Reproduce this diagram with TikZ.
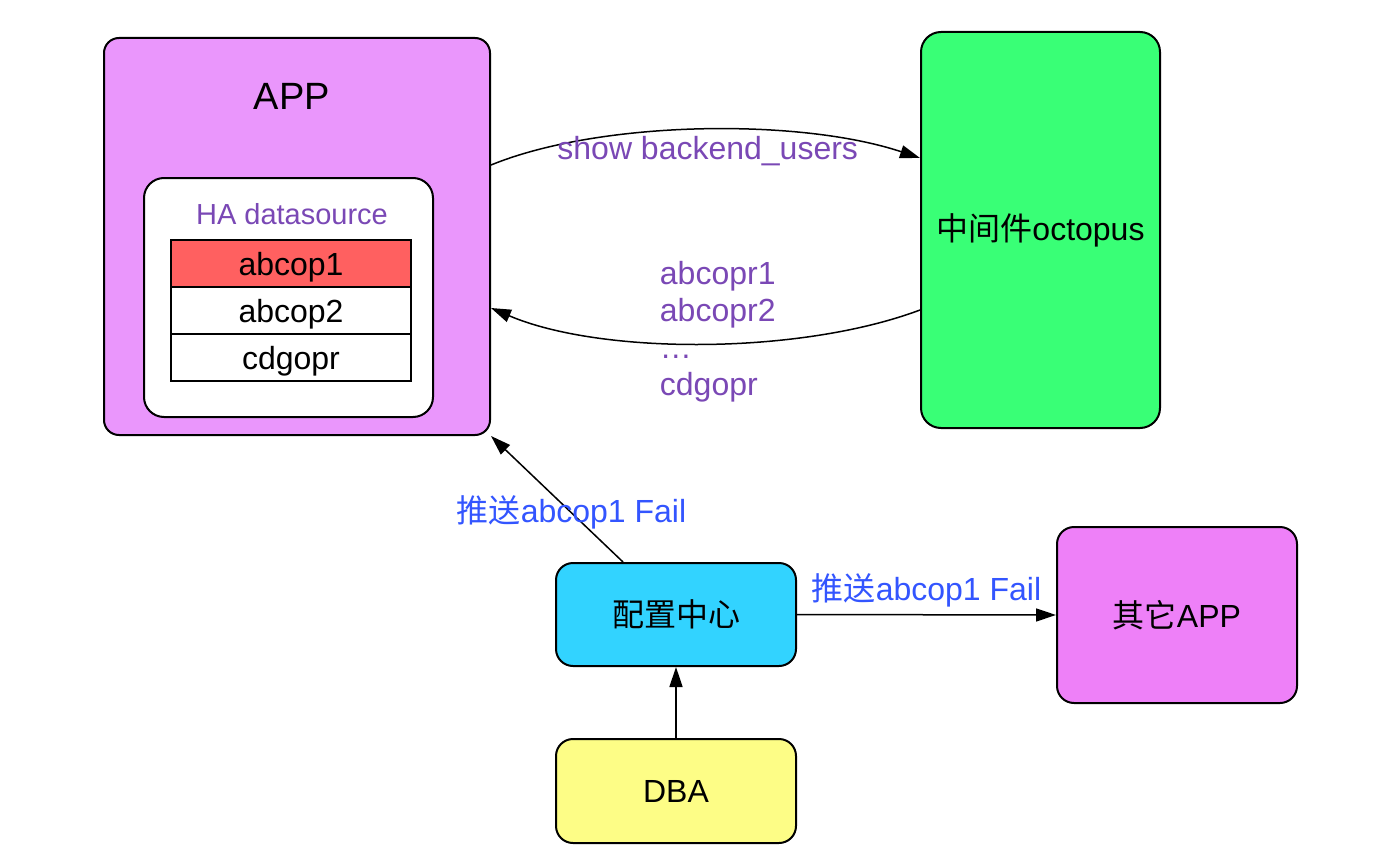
\documentclass[tikz,border=0pt]{standalone}
\usepackage{fontspec}
\setmainfont{Liberation Sans}
\newfontfamily\cjk{Noto Sans CJK SC}
\usepackage{tikz}
\usetikzlibrary{arrows.meta, positioning}

\definecolor{appviolet}{HTML}{EA96FC}
\definecolor{otherviolet}{HTML}{EE80F8}
\definecolor{octgreen}{HTML}{39FF76}
\definecolor{cfgcyan}{HTML}{32D3FF}
\definecolor{dbayellow}{HTML}{FDFD86}
\definecolor{failred}{HTML}{FF6060}
\definecolor{lblpurple}{HTML}{7A48B5}
\definecolor{lblblue}{HTML}{3355FF}

\begin{document}
\begin{tikzpicture}[
  x=0.5pt, y=-0.5pt,
  every node/.style={font=\fontsize{16}{19}\selectfont},
  box/.style={draw, line width=1pt, rounded corners=8.5pt, minimum width=120pt, align=center},
  row/.style={draw, line width=1pt, outer sep=0pt, minimum width=120pt, minimum height=23.5pt, inner sep=0pt, text depth=0pt},
  purpletxt/.style={text=lblpurple},
  bluetxt/.style={text=lblblue},
  arrow/.style={line width=0.75pt, -{Triangle[length=10pt, width=6.5pt]}}
]
\useasboundingbox (0,0) rectangle (1386,856);

% app side
\node[box, fill=appviolet, rounded corners=7.5pt, minimum width=193pt, minimum height=198.5pt] (app) at (297,236.5) {};
\node[font=\fontsize{19}{22}\selectfont] (apptitle) at (292,96) {APP};
\node[box, fill=white, rounded corners=10pt, minimum width=144.5pt, minimum height=119.5pt] (ha) at (288.5,297.5) {};
\node[purpletxt, font=\fontsize{14.5}{17}\selectfont] (hatitle) at (292,214) {HA datasource};
\node[row, fill=failred] (r1) at (291,263.5) {abcop1};
\node[row, fill=white, below=0pt of r1] (r2) {abcop2};
\node[row, fill=white, below=0pt of r2] (r3) {cdgopr};

% middleware + config
\node[box, fill=octgreen, rounded corners=10pt, minimum width=119.5pt, minimum height=198pt] (oct) at (1040.5,230) {{\cjk 中间件}octopus};
\node[box, fill=cfgcyan, minimum height=51.5pt] (cfg) at (676,614.5) {{\cjk 配置中心}};
\node[box, fill=otherviolet, minimum height=88pt] (other) at (1177,615) {{\cjk 其它}APP};
\node[box, fill=dbayellow, minimum height=52pt] (dba) at (676,791) {DBA};

\draw[arrow] ([yshift=35.75pt]app.east) .. controls +(110,-45) and +(-120,-40) .. ([yshift=36pt]oct.west)
  node[pos=0.5, xshift=3pt, yshift=-10.5pt, purpletxt] (showlbl) {show backend\_users};
\draw[arrow] ([yshift=-40pt]oct.west) .. controls +(-120,45) and +(110,47) .. ([yshift=-35.75pt]app.east)
  node[pos=0.5, xshift=8pt, yshift=6pt, purpletxt, align=left, font=\fontsize{16}{18.5}\selectfont] (userslbl) {abcopr1\\abcopr2\\…\\cdgopr};
\draw[arrow] ([xshift=-26.5pt]cfg.north) -- (app.south east)
  node[pos=0.39, bluetxt] (failup) {{\cjk 推送}abcop1 Fail};
\draw[arrow] (cfg.east) -- (other.west)
  node[midway, above=0pt, bluetxt] (failright) {{\cjk 推送}abcop1 Fail};
\draw[arrow] (dba) -- (cfg);
\end{tikzpicture}
\end{document}
